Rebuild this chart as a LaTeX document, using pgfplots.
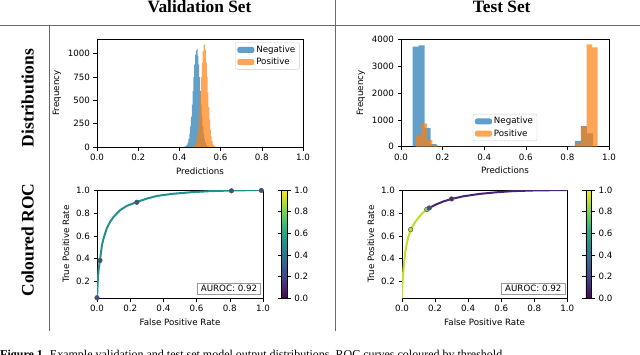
\documentclass[border=0pt]{standalone}
\usepackage{fontspec}
\setmainfont{DejaVu Sans}
\newfontfamily\headfont{Liberation Serif}
\usepackage{pgfplots}
\pgfplotsset{compat=1.18}

\definecolor{tabblue}{RGB}{31,119,180}
\definecolor{taborange}{RGB}{255,127,14}
\definecolor{vteal}{RGB}{33,145,140}
\definecolor{vlime}{RGB}{189,223,38}
\definecolor{vgreen}{RGB}{134,213,73}
\definecolor{vpurple}{RGB}{72,36,117}
\definecolor{vnavy}{RGB}{59,82,139}
\definecolor{rulegray}{RGB}{105,105,105}

\newcommand{\mplfont}{\fontsize{8.7}{10.5}\selectfont}

\tikzset{
  aucbox/.style={draw=black!40, fill=white, line width=0.6pt, inner xsep=3.5pt, inner ysep=2.3pt,
    anchor=south east, font=\mplfont},
}

\pgfplotsset{
  mpl/.style={
    scale only axis,
    font=\mplfont,
    tick label style={font=\mplfont},
    label style={font=\mplfont},
    axis line style={line width=0.6pt},
    tick style={line width=0.6pt, black},
    tick align=outside,
    major tick length=3.5pt,
    xtick pos=left, ytick pos=left,
    /pgf/number format/assume math mode=true,
    /pgf/number format/1000 sep={},
    xmin=0, xmax=1,
    xtick={0,0.2,0.4,0.6,0.8,1},
    xticklabel style={/pgf/number format/fixed,/pgf/number format/fixed zerofill,/pgf/number format/precision=1},
    legend cell align=left,
    legend style={font=\mplfont, draw=black!20, rounded corners=2pt, fill=white,
      fill opacity=0.8, text opacity=1, inner xsep=2pt, inner ysep=1.2pt},
  },
  hist/.style={const plot, draw=none, fill=#1, fill opacity=0.7, area legend,
    legend image code/.code={\draw[##1,draw=none] (0pt,-3pt) rectangle (17pt,3pt);}},
  roc/.style={mpl, ymin=0.055, ymax=1, ytick={0.2,0.4,0.6,0.8,1},
    yticklabel style={/pgf/number format/fixed,/pgf/number format/fixed zerofill,/pgf/number format/precision=1},
    xlabel={False Positive Rate}, ylabel={True Positive Rate},
    colormap/viridis, colorbar, point meta min=0, point meta max=1,
    colorbar style={width=5.7pt, at={(parent axis.north east)}, anchor=north west, xshift=10pt,
      ytick={0,0.2,0.4,0.6,0.8,1}, major tick length=3.5pt, tick align=outside,
      axis line style={line width=0.6pt}, tick style={line width=0.6pt, black},
      /pgf/number format/assume math mode=true,
      yticklabel style={font=\mplfont,/pgf/number format/fixed,/pgf/number format/fixed zerofill,/pgf/number format/precision=1}},
  },
  dots/.style={only marks, mark=*, mark size=2.3pt, mark options={fill=#1, draw=black!65, line width=0.5pt}},
}

\begin{document}
\begin{tikzpicture}
\useasboundingbox (0pt,0pt) rectangle (640pt,-354pt);

% table rules and headings
\draw[rulegray, line width=1pt] (0pt,-25.3pt) -- (640pt,-25.3pt);
\draw[rulegray, line width=1pt] (49.3pt,-25.3pt) -- (49.3pt,-330.7pt);
\draw[rulegray, line width=1pt] (335.7pt,0pt) -- (335.7pt,-330.7pt);
\node[anchor=base, font=\headfont\bfseries\fontsize{17.3}{20}\selectfont] at (199.5pt,-12.7pt) {Validation Set};
\node[anchor=base, font=\headfont\bfseries\fontsize{17.3}{20}\selectfont] at (501.7pt,-12.7pt) {Test Set};
\node[anchor=base, rotate=90, font=\headfont\bfseries\fontsize{17.5}{20}\selectfont] at (33.5pt,-98pt) {Distributions};
\node[anchor=base, rotate=90, font=\headfont\bfseries\fontsize{17.5}{20}\selectfont] at (33.5pt,-240pt) {Coloured ROC};

% validation distributions
\begin{axis}[mpl, at={(97pt,-147pt)}, anchor=south west, width=206pt, height=108pt,
  ymin=0, ymax=1157, ytick={0,250,500,750,1000},
  xlabel={Predictions}, ylabel={Frequency},
  legend style={at={(1,1)}, anchor=north east, xshift=-3.5pt, yshift=-3.5pt}]
\addplot[hist=tabblue] coordinates {
 (0.420,1)(0.424,3)(0.428,7)(0.432,14)(0.436,27)(0.440,50)(0.444,86)(0.448,142)
 (0.452,221)(0.456,326)(0.460,455)(0.464,599)(0.468,748)(0.472,883)(0.476,987)(0.480,1030)
 (0.484,1050)(0.488,980)(0.492,883)(0.496,748)(0.500,599)(0.504,455)(0.508,326)(0.512,221)
 (0.516,142)(0.520,86)(0.524,50)(0.528,27)(0.532,14)(0.536,7)(0.540,3)(0.544,1)(0.548,0)} \closedcycle;
\addplot[hist=taborange] coordinates {
 (0.461,2)(0.465,4)(0.469,8)(0.473,18)(0.477,35)(0.481,66)(0.485,115)(0.489,190)
 (0.493,294)(0.497,428)(0.501,584)(0.505,750)(0.509,905)(0.513,1025)(0.517,1091)(0.521,1100)
 (0.525,1040)(0.529,905)(0.533,750)(0.537,584)(0.541,428)(0.545,294)(0.549,190)(0.553,115)
 (0.557,66)(0.561,35)(0.565,18)(0.569,8)(0.573,4)(0.577,2)(0.581,0)} \closedcycle;
\legend{Negative,Positive}
\end{axis}

% test distributions
\begin{axis}[mpl, at={(401pt,-146.7pt)}, anchor=south west, width=208pt, height=107.4pt,
  ymin=0, ymax=4000, ytick={0,1000,2000,3000,4000},
  xlabel={Predictions}, ylabel={Frequency},
  legend style={at={(0.5,0)}, anchor=south, yshift=5.7pt}]
\addplot[hist=tabblue] coordinates {
 (0.056,3724)(0.0849,3776)(0.1138,700)(0.1427,100)(0.1716,15)(0.2005,0)
 (0.8074,30)(0.8363,220)(0.8652,770)(0.8941,500)(0.923,0)} \closedcycle;
\addplot[hist=taborange] coordinates {
 (0.071,410)(0.0975,870)(0.124,250)(0.1505,60)(0.177,8)(0.2035,0)
 (0.813,15)(0.8395,100)(0.866,745)(0.8925,3813)(0.919,3700)(0.9455,0)} \closedcycle;
\legend{Negative,Positive}
\end{axis}

% validation ROC
\begin{axis}[roc, at={(97pt,-298.3pt)}, anchor=south west, width=166pt, height=108.3pt]
\addplot[vteal, line width=2pt] coordinates {
 (0,0.055)(0.002,0.12)(0.005,0.22)(0.01,0.31)(0.018,0.39)(0.03,0.52)(0.04,0.58)(0.06,0.67)
 (0.08,0.725)(0.1,0.765)(0.14,0.825)(0.18,0.862)(0.24,0.895)(0.3,0.925)(0.36,0.948)
 (0.45,0.966)(0.56,0.98)(0.68,0.99)(0.8,0.995)(0.9,0.998)(1,1)};
\addplot[dots=vnavy] coordinates {(0.0,0.06)(0.018,0.385)(0.24,0.893)(0.81,0.993)(0.99,0.996)};
\node[aucbox] at (rel axis cs:1,0) [xshift=-2pt, yshift=4pt] {AUROC: 0.92};
\end{axis}

% test ROC
\begin{axis}[roc, at={(402pt,-298.3pt)}, anchor=south west, width=165.3pt, height=108.3pt]
\addplot[vlime, line width=2pt] coordinates {
 (0,0.055)(0.002,0.15)(0.005,0.24)(0.01,0.33)(0.02,0.46)(0.03,0.54)(0.04,0.6)(0.055,0.66)
 (0.075,0.71)(0.1,0.76)(0.125,0.8)(0.15,0.83)(0.165,0.843)};
\addplot[vpurple, line width=2pt] coordinates {
 (0.165,0.843)(0.2,0.87)(0.25,0.9)(0.3,0.922)(0.37,0.945)(0.47,0.966)(0.57,0.98)
 (0.67,0.99)(0.8,0.996)(1,1)};
\addplot[dots=vlime] coordinates {(0.052,0.655)};
\addplot[dots=vgreen] coordinates {(0.15,0.83)};
\addplot[dots=vnavy] coordinates {(0.165,0.843)};
\addplot[dots=vpurple] coordinates {(0.30,0.922)};
\node[aucbox] at (rel axis cs:1,0) [xshift=-2pt, yshift=4pt] {AUROC: 0.92};
\end{axis}

% caption (cut off by the page edge as in the source)
\node[anchor=base west, inner sep=0pt, font=\headfont\fontsize{12}{14}\selectfont] at (0pt,-358pt)
 {\textbf{Figure 1.} Example validation and test set model output distributions, ROC curves coloured by threshold};
\end{tikzpicture}
\end{document}
